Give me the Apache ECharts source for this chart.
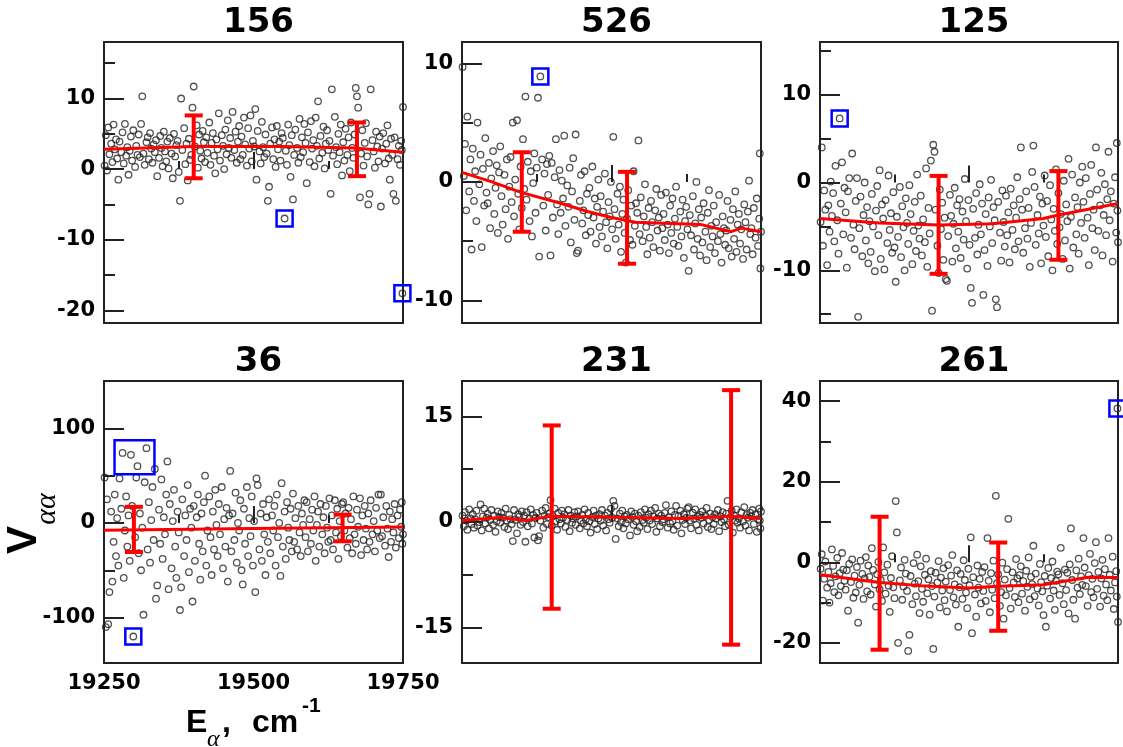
<!DOCTYPE html>
<html>
<head>
<meta charset="utf-8">
<script src="https://cdn.jsdelivr.net/npm/echarts@6/dist/echarts.min.js"></script>
<style>
html,body{margin:0;padding:0;background:#fff;}
#chart{width:1123px;height:747px;}
</style>
</head>
<body>
<div id="chart"></div>
<script>
// eigenstate energies (cm-1), shared by all six panels
var energies = [
  19251,19253,19255,19257,19259,19262,19264,19266,19268,19270,
  19272,19274,19276,19279,19281,19283,19285,19287,19289,19291,
  19293,19295,19297,19299,19302,19304,19306,19308,19310,19312,
  19314,19316,19318,19321,19323,19325,19327,19329,19331,19333,
  19335,19337,19339,19342,19344,19346,19348,19350,19352,19354,
  19356,19358,19360,19363,19365,19367,19369,19371,19373,19375,
  19377,19379,19381,19384,19386,19388,19390,19392,19394,19396,
  19398,19400,19402,19405,19407,19409,19411,19413,19415,19417,
  19419,19421,19423,19426,19428,19430,19432,19434,19436,19438,
  19440,19442,19444,19447,19449,19451,19453,19455,19457,19459,
  19461,19463,19465,19468,19470,19472,19474,19476,19478,19480,
  19482,19484,19486,19489,19491,19493,19495,19497,19499,19501,
  19503,19505,19507,19510,19512,19514,19516,19518,19520,19522,
  19524,19526,19528,19531,19533,19535,19537,19539,19541,19543,
  19545,19547,19549,19552,19554,19556,19558,19560,19562,19564,
  19566,19568,19570,19573,19575,19577,19579,19581,19583,19585,
  19587,19589,19591,19594,19596,19598,19600,19602,19604,19606,
  19608,19610,19612,19615,19617,19619,19621,19623,19625,19627,
  19629,19631,19633,19636,19638,19640,19642,19644,19646,19648,
  19650,19652,19654,19657,19659,19661,19663,19665,19667,19669,
  19671,19673,19675,19678,19680,19682,19684,19686,19688,19690,
  19692,19694,19696,19699,19701,19703,19705,19707,19709,19711,
  19713,19715,19717,19720,19722,19724,19726,19728,19730,19732,
  19734,19736,19738,19741,19743,19745,19747,19748,19749,19750
];

// V_aa values, one array per mode
var v156 = [
  0.5,4.8,-0.2,5.9,2.1,3.6,1.0,6.3,2.8,4.2,
  1.5,-1.5,3.9,2.4,5.2,0.8,6.4,1.9,3.1,-0.8,
  2.6,4.6,1.2,5.5,0.3,3.3,2.0,4.9,1.7,6.4,
  10.3,2.2,0.6,3.8,4.5,1.4,5.1,2.9,0.9,3.5,
  2.4,4.1,-1.0,1.6,4.7,3.0,0.4,5.3,2.5,1.1,
  3.9,0.1,4.4,2.2,-1.3,5.0,1.8,3.4,4.0,-0.4,
  -4.5,10.0,2.7,5.8,0.7,3.6,-1.6,4.3,1.3,2.0,
  8.7,11.7,3.2,6.2,0.2,4.9,2.6,1.5,5.4,3.8,
  1.0,4.5,2.3,6.6,0.6,3.7,5.1,1.9,-0.6,4.2,
  2.8,7.9,1.2,4.8,3.3,0.0,5.6,2.1,6.9,3.0,
  4.4,1.6,8.1,2.7,5.3,0.9,3.9,6.1,1.4,4.6,
  2.0,7.3,3.5,0.5,5.8,2.9,7.6,1.1,4.0,3.2,
  8.5,-1.5,5.4,2.5,0.8,6.7,3.1,1.7,4.9,2.2,
  -4.5,-2.5,3.6,5.9,1.4,4.2,0.3,6.1,2.8,3.9,
  1.2,5.1,4.4,-7.0,2.6,0.6,6.3,3.4,-1.1,4.8,
  -4.3,2.0,5.6,3.0,0.9,7.1,1.7,4.5,2.4,6.4,
  3.7,-2.0,5.2,1.0,6.8,2.9,4.1,0.4,7.3,3.3,
  9.6,1.5,4.7,2.3,6.0,0.1,3.6,5.5,2.7,4.0,
  -3.5,11.3,1.9,7.4,3.1,0.7,5.0,2.4,6.3,-0.9,
  3.8,1.2,5.7,2.0,4.5,-0.3,6.6,3.0,1.6,4.9,
  11.5,10.3,8.7,-4.0,2.2,5.5,0.5,3.7,6.5,1.8,
  -5.0,-3.5,11.3,4.1,2.5,0.2,5.3,3.2,1.1,4.6,
  -5.3,2.9,5.1,0.8,3.6,6.2,1.5,-1.5,4.3,2.0,
  -3.5,4.5,-4.5,1.4,3.3,0.6,4.0,2.7,-17.6,8.8
];
var v526 = [
  9.7,0.5,3.2,-2.4,5.5,-0.8,1.9,-5.7,2.8,-1.6,
  0.9,-3.3,5.0,-0.2,2.3,-5.5,1.1,-2.0,3.7,-0.9,
  -1.8,1.6,-3.9,0.3,2.6,-2.7,-0.5,1.4,-4.3,0.8,
  3.0,-1.2,-3.6,0.6,-2.3,1.9,-4.8,-0.4,2.1,-1.7,
  5.0,-2.9,0.2,5.2,-1.0,-4.0,1.3,-2.2,3.6,-0.6,
  7.2,-1.5,1.7,-3.3,0.9,-4.6,-0.1,2.4,-2.6,1.2,
  7.1,-6.3,8.9,1.9,-2.0,0.7,-4.1,1.5,-1.1,2.2,
  -6.2,1.6,-3.0,0.4,3.6,-1.9,-4.4,1.0,-2.6,0.1,
  -1.4,3.9,-3.7,-0.3,-2.1,1.2,-5.1,-0.8,2.0,-3.2,
  4.0,-6.0,-5.8,-1.6,0.6,-3.5,-2.4,0.9,-4.5,-1.0,
  -2.8,-0.5,-4.2,1.3,-3.0,-1.4,-5.2,-2.1,0.2,-3.8,
  -1.2,-4.6,-2.5,0.7,-3.4,-5.6,-1.7,-2.9,0.0,-4.0,
  3.8,-2.3,-4.8,-1.0,-3.6,-0.4,-5.9,-2.7,-1.5,-4.3,
  -6.8,-3.1,-0.7,-4.9,-2.0,-5.3,0.9,-3.7,-1.8,-2.6,
  3.5,-4.4,-1.3,-5.0,-2.9,-0.2,-3.8,-6.1,-2.2,-4.7,
  -1.6,-3.4,-5.5,-2.4,-0.6,-4.1,-3.0,-5.8,-1.1,-3.9,
  -2.7,-4.9,-0.9,-3.6,-6.0,-2.0,-4.3,-1.4,-5.2,-3.1,
  -0.4,-3.8,-5.4,-2.5,-4.6,-1.5,-6.4,-3.3,-2.1,-4.0,
  -7.5,-2.8,-4.5,-1.2,-5.7,-3.5,0.0,-4.8,-2.3,-6.2,
  -3.0,-5.1,-1.8,-4.2,-6.6,-2.6,-0.7,-5.5,-3.7,-4.6,
  -2.0,-6.0,-3.4,-5.0,-1.1,-4.4,-6.8,-2.9,-3.9,-5.3,
  -4.1,-1.6,-5.6,-3.2,-6.3,-2.3,-4.8,-0.8,-5.9,-3.6,
  -2.7,-5.2,-4.0,-6.5,-1.9,-3.4,-5.7,-2.5,0.1,-4.4,
  -3.9,-6.1,-2.2,-4.7,-1.4,-5.4,-3.1,2.4,-7.3,-4.2
];
var v125 = [
  -4.5,4.0,-7.2,-0.9,-3.1,-9.4,-2.6,-5.6,0.1,-3.8,
  -1.2,-6.7,1.9,-4.3,-8.1,7.3,-2.4,2.3,-5.9,-0.6,
  -3.4,-9.7,-1.0,0.5,-6.3,3.3,-4.8,-7.6,-2.1,0.5,
  -15.3,-5.2,-1.6,-8.4,-3.7,0.0,-6.6,-2.8,-9.2,-4.4,
  -7.9,-1.3,-5.0,-10.1,-3.2,-0.4,-6.0,1.4,-8.7,-2.5,
  -4.1,-9.9,-2.0,-6.9,0.8,-5.4,-3.5,-8.0,-1.1,-7.4,
  -11.3,-3.9,-6.2,-0.5,-8.5,-2.7,-5.1,-10.0,-1.8,-4.6,
  -7.0,-0.3,-3.6,-9.3,-5.5,-2.2,-7.8,0.9,-4.9,-6.4,
  -1.5,-8.3,-4.2,-6.8,1.6,-9.6,-2.9,-5.8,2.5,-14.6,
  4.3,3.5,-3.1,-7.2,-10.3,-0.8,-5.3,-2.3,-8.8,-4.0,
  -11.0,-11.2,-6.1,-1.4,-3.8,-9.0,-4.7,-0.6,-7.5,-2.6,
  -5.6,-1.9,-8.6,-3.3,-6.5,0.4,-4.4,-9.8,-2.0,-7.1,
  -12.0,-13.7,-3.0,-6.3,-1.2,-8.2,-4.8,-0.2,-5.9,-2.4,
  -12.8,-7.7,-3.6,-9.5,-1.7,-5.0,0.3,-6.9,-2.8,-4.3,
  -13.3,-14.2,-2.2,-5.7,-8.9,-0.9,-4.5,-7.3,-1.5,-6.0,
  -3.4,-9.1,-0.7,-5.4,-2.6,-7.6,-4.0,0.6,-6.7,-1.9,
  4.0,-3.1,-8.0,-5.2,-1.0,-6.4,-2.9,-9.6,-4.6,1.2,
  4.2,-0.5,-7.1,-3.7,-5.8,-1.6,-9.2,-2.4,-4.9,0.8,
  -6.2,-2.1,-8.4,-0.3,-4.2,-10.0,-3.0,-5.5,1.5,-7.0,
  -1.2,-5.1,-3.6,-8.7,0.2,-6.6,-2.5,-4.4,2.7,-9.8,
  -3.9,0.9,-7.4,-1.7,-5.9,-2.8,-8.1,0.0,-4.6,1.8,
  -2.2,-6.3,0.5,-4.0,-9.4,-1.3,2.0,-5.2,-3.1,-7.7,
  4.0,-0.8,-5.5,-2.6,1.1,-8.3,-3.7,-0.2,-6.0,-1.9,
  3.5,-4.3,-1.0,-9.0,-2.4,0.6,-5.7,4.5,-3.2,-6.8
];
var v36 = [
  48,-110,25,-107,-73,12,-62,-20,30,-35,
  5,-45,47,15,74,-58,-8,28,-25,8,
  -40,72,18,-120,-15,48,60,-32,10,-50,
  -5,-97,43,79,-28,22,-42,3,38,-18,
  57,-80,-66,14,-22,46,-38,6,-12,30,
  65,-70,20,-48,2,35,-25,-58,12,-10,
  -92,-68,25,-35,8,-18,40,-52,15,-5,
  -83,18,-40,6,30,-22,-60,10,-30,22,
  50,-45,-8,28,-15,-55,12,-28,35,-2,
  -35,20,-12,38,-48,4,-25,16,-62,8,
  55,-30,10,-18,32,-42,0,-8,24,-50,
  -65,15,-22,38,-35,5,-14,28,-45,2,
  -73,47,40,-28,10,-40,20,-12,-55,6,
  -20,25,-32,8,-8,18,-45,30,-15,0,
  -56,42,-25,12,-38,22,-5,-18,15,-30,
  31,-20,5,-28,18,-10,-35,10,-2,24,
  -15,22,-30,4,-22,14,-8,28,-40,-2,
  12,-25,20,-12,6,-32,18,-5,-20,26,
  -18,8,-28,24,-10,15,-38,2,-14,20,
  22,-8,10,-26,16,-16,4,-32,28,-12,
  -22,14,-4,26,-34,8,-18,18,-6,-28,
  10,-20,24,-12,2,-30,16,-8,30,-16,
  30,-14,6,-24,18,-6,-36,12,-20,4,
  -10,20,-26,8,-16,14,-4,22,-22,-12
];
var v231 = [
  0.9,-0.6,1.4,0.2,-1.1,1.8,0.5,-0.3,1.1,-0.8,
  0.4,1.6,-0.5,0.0,2.5,-1.2,0.8,1.9,-0.2,0.6,
  1.2,-0.9,0.3,1.7,-0.4,0.9,-1.4,0.1,1.5,0.7,
  -0.1,1.3,0.6,-0.7,1.9,0.2,-1.0,1.0,0.4,-0.3,
  -2.7,1.7,0.3,-1.6,1.1,0.8,-0.4,1.5,0.0,0.9,
  -2.8,1.4,-0.6,0.5,1.8,-0.2,1.0,-2.2,0.6,1.3,
  -2.6,-2.0,0.2,1.6,-0.8,0.9,2.0,-0.3,0.7,1.2,
  3.1,-0.5,0.8,1.9,0.1,-1.1,1.3,0.4,-0.2,1.6,
  0.6,1.1,-0.7,0.3,1.7,-1.3,0.9,-0.1,0.5,1.4,
  -0.4,0.8,1.5,-0.9,0.2,1.0,-0.2,1.8,0.4,-0.6,
  1.3,0.1,-1.5,0.7,1.6,-0.3,0.9,-1.0,0.5,1.1,
  0.2,1.7,-0.5,0.9,-1.2,1.3,0.4,-0.1,1.9,0.6,
  3.0,2.3,-2.4,0.5,-0.6,1.2,0.0,1.6,-0.9,0.8,
  -0.2,1.0,0.4,-1.9,1.5,0.7,-0.4,1.2,0.1,-1.3,
  0.9,-0.7,1.4,0.3,-0.1,1.8,0.6,-1.0,1.1,0.2,
  1.6,-0.3,0.8,2.0,-1.4,0.5,1.2,-0.6,0.9,0.0,
  0.4,1.3,2.4,-0.8,0.7,-0.2,1.5,0.1,-1.1,1.0,
  2.3,-0.5,0.9,1.6,-1.6,0.3,1.1,-0.3,0.6,1.9,
  2.1,0.2,-0.9,1.3,0.5,1.8,-0.4,0.8,-1.2,1.0,
  0.6,1.5,-0.2,0.9,2.0,-0.7,0.3,1.2,-1.0,0.7,
  -0.3,1.1,0.5,1.7,-1.3,0.8,0.0,1.4,0.4,-0.6,
  1.2,3.0,-0.4,0.7,1.6,-1.5,0.9,0.2,1.8,-0.1,
  0.5,-0.8,1.4,0.1,2.1,-0.5,1.0,0.6,-1.2,1.3,
  0.8,1.7,-0.3,1.1,-1.4,0.4,1.9,0.2,-0.9,1.5
];
var v261 = [
  -1.6,2.0,-9.5,-4.1,0.2,-6.3,-2.4,-10.0,-5.2,3.2,
  -0.9,-7.4,-3.5,1.1,-8.2,-2.7,-5.9,2.3,-1.8,-4.6,
  -6.8,-2.0,-12.0,-0.4,-4.9,0.7,-8.8,-3.3,-7.5,-1.2,
  -15.0,-5.6,0.4,-2.9,-9.1,-4.0,1.3,-7.2,-0.8,-3.6,
  -8.0,3.5,-1.9,-5.5,-11.0,-3.0,0.1,-6.7,-4.4,-9.6,
  3.7,-2.5,-7.8,-0.6,-5.8,-12.3,-3.9,1.5,-6.2,-8.9,
  15.2,7.4,-20.0,-4.5,-1.3,-9.3,-6.0,0.6,-2.8,-7.1,
  -22.0,-18.0,-3.4,-10.4,-0.2,-5.3,-8.4,1.9,-4.7,-12.6,
  -1.0,-6.6,-9.8,-3.1,0.9,-7.7,-4.2,-13.0,-2.2,-5.9,
  -21.5,-8.5,-2.6,-5.0,0.3,-11.2,-3.8,-7.0,-1.5,-9.4,
  -4.8,-12.2,-0.7,-6.9,-3.3,1.8,-8.7,-5.5,-10.5,-2.0,
  -16.0,-6.2,-2.9,-9.1,0.5,-4.4,-7.5,-11.4,-1.6,-5.7,
  6.2,-17.6,-3.7,-8.0,-13.5,-0.8,-6.3,-4.1,-10.2,-2.4,
  -7.1,-1.2,-9.6,6.0,-4.6,-12.4,-2.7,-6.8,0.4,-8.9,
  16.5,-5.2,-3.0,-10.8,-7.4,-0.1,-14.0,-4.3,-8.2,-1.7,
  10.8,-6.4,-11.5,-2.5,-5.0,-8.6,0.8,-4.0,-9.9,-3.2,
  -1.0,-7.8,-4.7,-12.0,-2.1,-6.1,1.2,-9.2,-3.6,-5.4,
  4.1,-8.4,-2.8,-6.5,-10.7,-0.4,-4.9,-7.2,-13.1,-3.4,
  -16.0,-5.8,-1.4,-9.0,-3.9,0.2,-7.0,-11.8,-4.6,-2.3,
  -3.0,-8.1,3.6,-5.2,-10.4,-1.8,-6.9,-2.6,-12.7,-0.5,
  8.4,-4.4,-9.3,-14.0,-2.0,-6.3,0.9,-7.9,-3.5,-5.6,
  6.0,-1.3,-5.9,-10.8,-3.2,2.1,-7.4,-4.1,-8.7,-0.2,
  5.0,-6.6,-2.4,-11.0,-4.0,0.6,-8.3,-1.7,-5.5,-9.4,
  6.0,-3.1,-7.0,1.4,-11.6,-5.0,-2.2,-8.5,38.2,-14.8
];

// red running-average lines
var trend156 = [[19250,2.8],[19400,3.2],[19550,3.2],[19670,3.0],[19750,2.4]];
var trend526 = [[19250,0.8],[19300,0.0],[19350,-0.9],[19415,-1.8],[19460,-2.5],[19500,-3.0],[19540,-3.4],[19600,-3.5],[19650,-3.6],[19700,-4.2],[19717,-3.9],[19750,-4.2]];
var trend125 = [[19250,-4.1],[19350,-4.6],[19450,-4.85],[19540,-4.7],[19625,-4.1],[19650,-3.7],[19750,-2.4]];
var trend36 = [[19250,-7.8],[19500,-6.0],[19750,-4.2]];
var trend231 = [[19250,0.2],[19313,0.65],[19357,0.2],[19395,0.8],[19480,0.7],[19620,0.5],[19700,0.8],[19750,0.5]];
var trend261 = [[19250,-3.1],[19350,-5.0],[19420,-5.8],[19500,-6.4],[19540,-6.0],[19625,-5.6],[19700,-3.7],[19750,-3.8]];

// error bars: [energy, low, high]
var err156 = [[19400,-1.3,7.6],[19673,-1.0,6.6]];
var err526 = [[19350,-4.2,2.5],[19526,-6.9,0.85]];
var err125 = [[19449,-10.4,0.75],[19650,-8.8,1.3]];
var err36 = [[19300,-30.7,17],[19649,-19.4,8.8]];
var err231 = [[19400,-12.3,13.7],[19700,-17.4,18.7]];
var err261 = [[19350,-21.7,11.3],[19549,-17,4.9]];

// outliers marked by blue boxes (each box = group of points)
var box156 = [[[19552,-7.0]],[[19749,-17.6]]];
var box526 = [[[19381,8.9]]];
var box125 = [[[19283,7.3]]];
var box36 = [[[19281,74],[19295,72],[19306,60],[19321,79]],[[19299,-120]]];
var box231 = [];
var box261 = [[[19749,38.2]]];

// axis ranges and ticks
var xRange = [19250, 19750];
var xMajor = [19250, 19500, 19750];
var xMinor = [19375, 19625];
var yRange156 = [-21.8, 18], yMajor156 = [-20, -10, 0, 10], yMinor156 = [-15, -5, 5, 15];
var yRange526 = [-11.9, 11.8], yMajor526 = [-10, 0, 10], yMinor526 = [-5, 5];
var yRange125 = [-16, 16], yMajor125 = [-10, 0, 10], yMinor125 = [-15, -5, 5, 15];
var yRange36 = [-148, 150], yMajor36 = [-100, 0, 100], yMinor36 = [-50, 50];
var yRange231 = [-20, 20], yMajor231 = [-15, 0, 15], yMinor231 = [-7.5, 7.5];
var yRange261 = [-25, 45], yMajor261 = [-20, 0, 20, 40], yMinor261 = [-10, 10, 30];

var panels = [
  {title:'156', vals:v156, trend:trend156, err:err156, boxes:box156, yr:yRange156, major:yMajor156, minor:yMinor156},
  {title:'526', vals:v526, trend:trend526, err:err526, boxes:box526, yr:yRange526, major:yMajor526, minor:yMinor526},
  {title:'125', vals:v125, trend:trend125, err:err125, boxes:box125, yr:yRange125, major:yMajor125, minor:yMinor125},
  {title:'36', vals:v36, trend:trend36, err:err36, boxes:box36, yr:yRange36, major:yMajor36, minor:yMinor36},
  {title:'231', vals:v231, trend:trend231, err:err231, boxes:box231, yr:yRange231, major:yMajor231, minor:yMinor231},
  {title:'261', vals:v261, trend:trend261, err:err261, boxes:box261, yr:yRange261, major:yMajor261, minor:yMinor261}
];

// grid boxes [left, top, width, height]
var layout = [
  [104, 42, 299, 281], [462, 42, 299, 281], [820, 42, 298, 281],
  [104, 381, 299, 282], [462, 381, 299, 282], [820, 381, 298, 282]
];

var myChart = echarts.init(document.getElementById('chart'));
var tickLine = {color: '#222', width: 2};
var labelFont = {fontFamily: 'DejaVu Sans', fontWeight: 'bold', fontSize: 21, color: '#000'};
function plainNum(v) { return String(v); }

var grids = [], xAxes = [], yAxes = [], series = [], titles = [];

function errBar(params, api) {
  var x = api.value(0);
  var top = api.coord([x, api.value(2)]);
  var bot = api.coord([x, api.value(1)]);
  var w = 9;
  var st = {stroke: '#ff0000', lineWidth: 4};
  return {
    type: 'group',
    children: [
      {type: 'line', shape: {x1: top[0], y1: top[1], x2: bot[0], y2: bot[1]}, style: st},
      {type: 'line', shape: {x1: top[0] - w, y1: top[1], x2: top[0] + w, y2: top[1]}, style: st},
      {type: 'line', shape: {x1: bot[0] - w, y1: bot[1], x2: bot[0] + w, y2: bot[1]}, style: st}
    ]
  };
}

function boxRect(params, api) {
  var p1 = api.coord([api.value(0), api.value(3)]);
  var p2 = api.coord([api.value(1), api.value(2)]);
  var pad = 8;
  return {
    type: 'rect',
    shape: {x: p1[0] - pad, y: p1[1] - pad, width: p2[0] - p1[0] + 2 * pad, height: p2[1] - p1[1] + 2 * pad},
    style: {stroke: '#0000ff', fill: 'none', lineWidth: 2.5}
  };
}

panels.forEach(function (p, i) {
  var g = layout[i];
  grids.push({left: g[0], top: g[1], width: g[2], height: g[3], show: true, borderColor: '#222', borderWidth: 2, backgroundColor: 'transparent'});

  titles.push({
    text: p.title, left: g[0] + g[2] / 2, top: i < 3 ? 1 : 340, textAlign: 'center',
    textStyle: {fontFamily: 'DejaVu Sans', fontWeight: 'bold', fontSize: 34, color: '#000'}
  });

  // x axes: major (with labels on bottom-left panel) + minor
  xAxes.push({
    type: 'value', gridIndex: i, position: 'bottom', min: xRange[0], max: xRange[1],
    axisLine: {show: false}, splitLine: {show: false},
    axisTick: {inside: true, length: 17, customValues: xMajor, lineStyle: tickLine},
    axisLabel: Object.assign({show: i === 3, customValues: xMajor, margin: 10, formatter: plainNum}, labelFont)
  });
  xAxes.push({
    type: 'value', gridIndex: i, position: 'bottom', min: xRange[0], max: xRange[1],
    axisLine: {show: false}, splitLine: {show: false},
    axisTick: {inside: true, length: 8, customValues: xMinor, lineStyle: tickLine},
    axisLabel: {show: false}
  });

  // y axes: major with labels + minor
  yAxes.push({
    type: 'value', gridIndex: i, position: 'left', min: p.yr[0], max: p.yr[1],
    axisLine: {show: false}, splitLine: {show: false},
    axisTick: {inside: true, length: 20, customValues: p.major, lineStyle: tickLine},
    axisLabel: Object.assign({customValues: p.major, margin: 9, formatter: plainNum}, labelFont)
  });
  yAxes.push({
    type: 'value', gridIndex: i, position: 'left', min: p.yr[0], max: p.yr[1],
    axisLine: {show: false}, splitLine: {show: false},
    axisTick: {inside: true, length: 11, customValues: p.minor, lineStyle: tickLine},
    axisLabel: {show: false}
  });

  var pts = energies.map(function (e, k) { return [e, p.vals[k]]; });
  series.push({
    type: 'scatter', xAxisIndex: 2 * i, yAxisIndex: 2 * i, data: pts, z: 2,
    symbol: 'circle', symbolSize: 6.5,
    itemStyle: {color: 'rgba(255,255,255,0)', borderColor: '#262626', borderWidth: 1.3}
  });
  series.push({
    type: 'line', xAxisIndex: 2 * i, yAxisIndex: 2 * i, data: p.trend, z: 3,
    symbol: 'none', lineStyle: {color: '#ff0000', width: 3}
  });
  series.push({
    type: 'custom', xAxisIndex: 2 * i, yAxisIndex: 2 * i, data: p.err, z: 4,
    encode: {x: 0, y: [1, 2]}, renderItem: errBar
  });
  var bx = p.boxes.map(function (grp) {
    var xs = grp.map(function (q) { return q[0]; });
    var ys = grp.map(function (q) { return q[1]; });
    return [Math.min.apply(null, xs), Math.max.apply(null, xs), Math.min.apply(null, ys), Math.max.apply(null, ys)];
  });
  series.push({
    type: 'custom', xAxisIndex: 2 * i, yAxisIndex: 2 * i, data: bx, z: 5,
    encode: {x: [0, 1], y: [2, 3]}, renderItem: boxRect
  });
});

var option = {
  backgroundColor: '#fff',
  animation: false,
  title: titles,
  grid: grids,
  xAxis: xAxes,
  yAxis: yAxes,
  series: series,
  graphic: [
    // y-axis title V_aa (rotated)
    {type: 'text', x: 24, y: 540, rotation: Math.PI / 2,
      style: {text: 'V', font: 'bold 42px "Liberation Sans"', fill: '#000', align: 'center', verticalAlign: 'middle'}},
    {type: 'text', x: 47, y: 509, rotation: Math.PI / 2,
      style: {text: 'αα', font: 'italic 30px "Liberation Serif"', fill: '#000', align: 'center', verticalAlign: 'middle'}},
    // x-axis title E_a, cm^-1
    {type: 'text', x: 186, y: 723,
      style: {text: 'E', font: 'bold 32px "Liberation Sans"', fill: '#000', align: 'left', verticalAlign: 'middle'}},
    {type: 'text', x: 207, y: 740,
      style: {text: 'α', font: 'italic 24px "Liberation Serif"', fill: '#000', align: 'left', verticalAlign: 'middle'}},
    {type: 'text', x: 222, y: 723,
      style: {text: ',', font: 'bold 32px "Liberation Sans"', fill: '#000', align: 'left', verticalAlign: 'middle'}},
    {type: 'text', x: 252, y: 723,
      style: {text: 'cm', font: 'bold 32px "Liberation Sans"', fill: '#000', align: 'left', verticalAlign: 'middle'}},
    {type: 'text', x: 302, y: 706,
      style: {text: '-1', font: 'bold 21px "Liberation Sans"', fill: '#000', align: 'left', verticalAlign: 'middle'}}
  ]
};

myChart.setOption(option);
</script>
</body>
</html>
